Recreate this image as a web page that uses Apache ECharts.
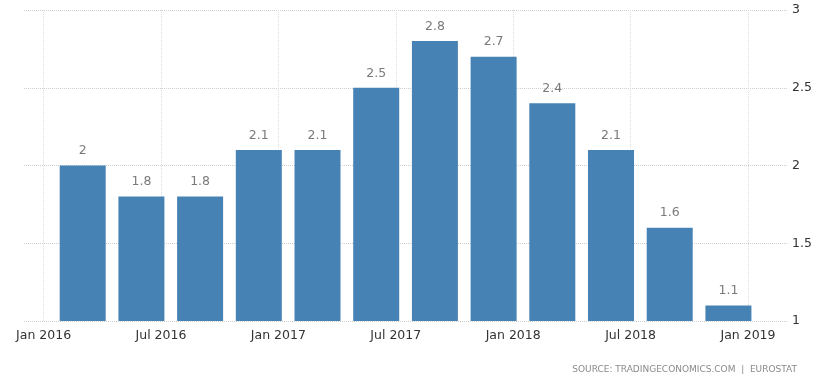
<!DOCTYPE html>
<html><head><meta charset="utf-8">
<script src="https://cdn.jsdelivr.net/npm/echarts@6/dist/echarts.min.js"></script>
<style>html,body{margin:0;padding:0;background:#fff}#c{width:815px;height:381px}</style>
</head><body><div id="c"></div>
<script>
// Quarterly periods (bar centres placed at these months)
const quarters = ['2016-03','2016-06','2016-09','2016-12','2017-03','2017-06','2017-09','2017-12','2018-03','2018-06','2018-09','2018-12'];
const values = [2, 1.8, 1.8, 2.1, 2.1, 2.5, 2.8, 2.7, 2.4, 2.1, 1.6, 1.1];
const xTickLabels = ['Jan 2016','Jul 2016','Jan 2017','Jul 2017','Jan 2018','Jul 2018','Jan 2019'];
const yTicks = [1, 1.5, 2, 2.5, 3];
const sourceText = 'SOURCE: TRADINGECONOMICS.COM  |  EUROSTAT';

const MONTHS = ['Jan','Feb','Mar','Apr','May','Jun','Jul','Aug','Sep','Oct','Nov','Dec'];
function monthFromQuarter(s){ const p = s.split('-').map(Number); return (p[0]-2016)*12 + (p[1]-1); }
function monthFromLabel(l){ const p = l.split(' '); return (Number(p[1])-2016)*12 + MONTHS.indexOf(p[0]); }
const tickPos = xTickLabels.map(monthFromLabel);
const barData = quarters.map((q,i) => [monthFromQuarter(q), values[i]]);

const FONT = 'DejaVu Sans';
const chart = echarts.init(document.getElementById('c'), null, {renderer:'canvas'});
chart.setOption({
  animation: false,
  backgroundColor: '#fff',
  grid: {left: 24, right: 25, top: 10, bottom: 60, containLabel: false},
  title: {
    text: sourceText, right: 13, bottom: 2,
    textStyle: {fontFamily: FONT, fontSize: 9, fontWeight: 'normal', color: '#8a8a8a'}
  },
  xAxis: {
    type: 'value', min: -1, max: 38,
    axisLine: {show: false},
    axisTick: {show: false, customValues: tickPos},
    axisLabel: {
      customValues: tickPos, margin: 8,
      fontFamily: FONT, fontSize: 12.5, color: '#333',
      formatter: v => { const i = tickPos.indexOf(v); return i >= 0 ? xTickLabels[i] : ''; }
    },
    splitLine: {show: true, lineStyle: {color: '#dedede', type: 'dotted', width: 1}}
  },
  yAxis: {
    type: 'value', position: 'right', min: yTicks[0], max: yTicks[yTicks.length-1], interval: 0.5,
    axisLine: {show: false}, axisTick: {show: false},
    axisLabel: {margin: 5, fontFamily: FONT, fontSize: 12.5, color: '#333'},
    splitLine: {show: true, lineStyle: {color: '#cfcfcf', type: 'dotted', width: 1}}
  },
  series: [{
    type: 'bar',
    data: barData,
    barWidth: 46,
    itemStyle: {color: '#4682b4'},
    label: {
      show: true, position: 'top', distance: 8,
      fontFamily: FONT, fontSize: 12.5, color: '#7a7a7a',
      formatter: p => String(p.value[1])
    }
  }]
});
</script></body></html>
